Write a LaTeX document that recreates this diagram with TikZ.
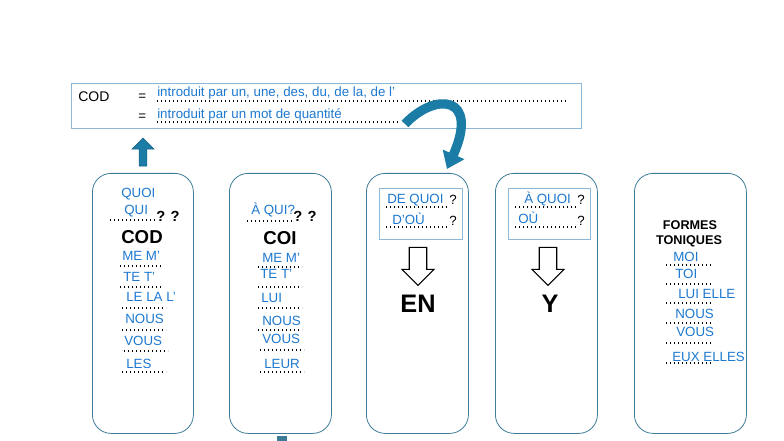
\documentclass[tikz,border=0pt]{standalone}
\usepackage{fontspec}
\setmainfont{Liberation Sans}
\usetikzlibrary{arrows.meta,shapes.arrows}
\definecolor{tb}{HTML}{1C78D0}
\definecolor{frame}{HTML}{3D7C98}
\definecolor{lb}{HTML}{8DB8DA}
\definecolor{ar}{HTML}{1B7CA6}
\definecolor{ard}{HTML}{16607F}
\begin{document}
\begin{tikzpicture}[x=0.75pt,y=-0.75pt,
  col/.style={draw=frame,rounded corners=14pt,line width=0.6pt},
  ibox/.style={draw=lb,line width=0.7pt},
  it/.style={text=tb,font=\fontsize{10}{10}\selectfont,anchor=west,inner sep=0pt},
  bk/.style={font=\fontsize{10}{10}\selectfont,anchor=west,inner sep=0pt},
  big/.style={font=\fontsize{14}{14}\selectfont\bfseries,inner sep=0pt},
  dl/.style={dotted,line width=1pt,line cap=butt}]
\useasboundingbox (0,0) rectangle (784,441);
% top box
\node[ibox,minimum width=510*0.75pt,minimum height=45*0.75pt,anchor=north west] (top) at (71,83) {};
\node[bk,font=\fontsize{10.5}{10.5}\selectfont] (cod0) at (78,97) {COD};
\node[bk] (eq1) at (138,97) {=};
\node[it] (t1) at (157,93) {introduit par un, une, des, du, de la, de l'};
\node[bk] (eq2) at (138,117) {=};
\node[it] (t2) at (157,115) {introduit par un mot de quantité};
\draw[dl] (157,101) -- (566,101);
\draw[dl] (157,122) -- (400,122);
% columns
\node[col,minimum width=101*0.75pt,minimum height=260*0.75pt,anchor=north west] (c1) at (92,173) {};
\node[col,minimum width=102*0.75pt,minimum height=260*0.75pt,anchor=north west] (c2) at (229,173) {};
\node[col,minimum width=102*0.75pt,minimum height=260*0.75pt,anchor=north west] (c3) at (366,173) {};
\node[col,minimum width=102*0.75pt,minimum height=260*0.75pt,anchor=north west] (c4) at (495,173) {};
\node[col,minimum width=112*0.75pt,minimum height=260*0.75pt,anchor=north west] (c5) at (634,173) {};
% up arrow
\node[single arrow,shape border rotate=90,fill=ar,draw=ard,minimum height=28*0.75pt,minimum width=22*0.75pt,single arrow head extend=3pt,inner sep=1.5pt] (up) at (143,154) {};
% curved arrow
\coordinate (cs) at (405,124);
\coordinate (ce) at (447,169);
\draw[ar,line width=7pt,-{Triangle[width=17pt,length=12pt]}] (cs) .. controls (435,92) and (480,95) .. (ce);
\fill[frame] (277,436) rectangle (287,441);
% col1
\node[it] (q1) at (121,194) {QUOI};
\node[it] (q2) at (124,211) {QUI};
\draw[dl] (110,220) -- (156,220);
\node[bk,font=\fontsize{11}{11}\selectfont\bfseries] (qq1) at (156,216) {? ?};
\node[big] (cod) at (142,237) {COD};
\node[it] (a1) at (122,256) {ME M'};
\draw[dl] (120,266) -- (164,266);
\node[it] (a2) at (123,277) {TE T'};
\draw[dl] (120,287) -- (164,287);
\node[it] (a3) at (126,297) {LE LA L'};
\draw[dl] (122,308) -- (166,308);
\node[it] (a4) at (125,319) {NOUS};
\draw[dl] (122,330) -- (166,330);
\node[it] (a5) at (124,341) {VOUS};
\draw[dl] (124,351) -- (168,351);
\node[it] (a6) at (126,364) {LES};
\draw[dl] (122,372) -- (166,372);
% col2
\node[it] (b0) at (251,210) {À QUI?};
\draw[dl] (247,221) -- (293,221);
\node[bk,font=\fontsize{11}{11}\selectfont\bfseries] (qq2) at (293,216) {? ?};
\node[big] (coi) at (280,238) {COI};
\node[it] (b1) at (262,258) {ME M'};
\draw[dl] (258,267) -- (302,267);
\node[it] (b2) at (260,274) {TE T'};
\draw[dl] (258,287) -- (302,287);
\node[it] (b3) at (261,298) {LUI};
\draw[dl] (258,308) -- (302,308);
\node[it] (b4) at (262,321) {NOUS};
\draw[dl] (258,330) -- (302,330);
\node[it] (b5) at (262,339) {VOUS};
\draw[dl] (260,350) -- (304,350);
\node[it] (b6) at (264,364) {LEUR};
\draw[dl] (260,372) -- (304,372);
% col3
\node[ibox,minimum width=83*0.75pt,minimum height=51*0.75pt,anchor=north west] (i3) at (379,188) {};
\node[it] (e1) at (387,200) {DE QUOI};
\node[bk] (e1q) at (449,200) {?};
\draw[dl] (386,207) -- (449,207);
\node[it] (e2) at (392,219) {D'OÙ};
\node[bk] (e2q) at (449,221) {?};
\draw[dl] (386,227) -- (449,227);
\node[single arrow,shape border rotate=270,draw=black,fill=white,line width=0.8pt,minimum height=38*0.75pt,minimum width=32*0.75pt,single arrow head extend=2pt,inner sep=2pt] (d3) at (418,262) {};
\node[big,font=\fontsize{19}{19}\selectfont\bfseries] (en) at (418,304) {EN};
% col4
\node[ibox,minimum width=82*0.75pt,minimum height=51*0.75pt,anchor=north west] (i4) at (508,188) {};
\node[it] (y1) at (524,199) {À QUOI};
\node[bk] (y1q) at (577,200) {?};
\draw[dl] (515,207) -- (577,207);
\node[it] (y2) at (518,218) {OÙ};
\node[bk] (y2q) at (577,221) {?};
\draw[dl] (515,227) -- (577,227);
\node[single arrow,shape border rotate=270,draw=black,fill=white,line width=0.8pt,minimum height=38*0.75pt,minimum width=32*0.75pt,single arrow head extend=2pt,inner sep=2pt] (d4) at (548,262) {};
\node[big,font=\fontsize{19}{19}\selectfont\bfseries] (y) at (550,304) {Y};
% col5
\node[big,font=\fontsize{9.5}{9.5}\selectfont\bfseries] (f1) at (690,225) {FORMES};
\node[big,font=\fontsize{9.5}{9.5}\selectfont\bfseries] (f2) at (689,241) {TONIQUES};
\node[it] (m1) at (673,257) {MOI};
\draw[dl] (666,265) -- (712,265);
\node[it] (m2) at (675,274) {TOI};
\draw[dl] (666,284) -- (712,284);
\node[it] (m3) at (678,294) {LUI ELLE};
\draw[dl] (666,303) -- (712,303);
\node[it] (m4) at (675,314) {NOUS};
\draw[dl] (666,323) -- (712,323);
\node[it] (m5) at (676,332) {VOUS};
\draw[dl] (666,343) -- (712,343);
\node[it] (m6) at (672,357) {EUX ELLES};
\draw[dl] (666,363) -- (712,363);
\end{tikzpicture}
\end{document}
